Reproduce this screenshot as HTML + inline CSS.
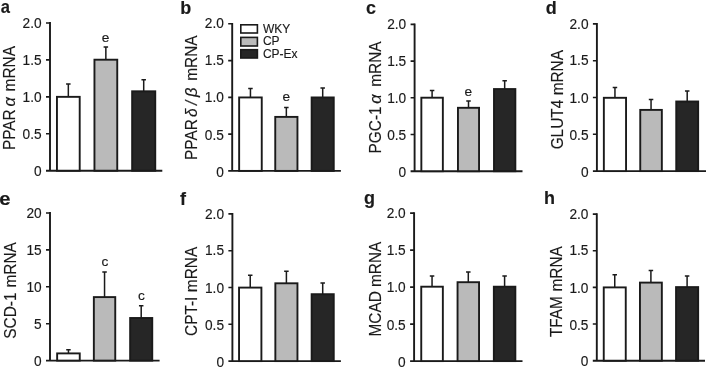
<!DOCTYPE html>
<html><head><meta charset="utf-8"><title>Figure</title>
<style>
html,body{margin:0;padding:0;background:#fff;}
svg{display:block;}
text{font-family:"Liberation Sans",Arial,sans-serif;fill:#1a1a1a;stroke:#1a1a1a;stroke-width:0.15px;}
.tk{font-size:13.7px;}
.lt{font-size:18px;font-weight:bold;}
.yl{font-size:15.4px;}
.an{font-size:13.7px;}
.lg{font-size:12px;}
.it{font-style:italic;}
.gk{font-size:16.5px;}
</style></head><body>
<svg width="706" height="367" viewBox="0 0 706 367">
<rect width="706" height="367" fill="#fff"/>
<path d="M50.0,22.10 V170.7 M46.00,170.7 H162.3" stroke="#1a1a1a" stroke-width="1.9" fill="none"/>
<text transform="translate(41.60,176.30) scale(1,1.03)" text-anchor="end" class="tk">0</text>
<text transform="translate(41.60,139.37) scale(1,1.03)" text-anchor="end" class="tk">0.5</text>
<text transform="translate(41.60,101.95) scale(1,1.03)" text-anchor="end" class="tk">1.0</text>
<text transform="translate(41.60,64.62) scale(1,1.03)" text-anchor="end" class="tk">1.5</text>
<text transform="translate(41.60,27.60) scale(1,1.03)" text-anchor="end" class="tk">2.0</text>
<path d="M46.00,133.77 H50.0 M46.00,96.85 H50.0 M46.00,59.92 H50.0 M46.00,23.00 H50.0 " stroke="#1a1a1a" stroke-width="1.6" fill="none"/>
<path d="M68.33,96.85 V84.00 M66.08,84.00 H70.58" stroke="#1a1a1a" stroke-width="1.5" fill="none"/>
<rect x="56.95" y="96.85" width="22.75" height="73.85" fill="#fff" stroke="#1a1a1a" stroke-width="1.9"/>
<path d="M105.85,59.70 V46.90 M103.60,46.90 H108.10" stroke="#1a1a1a" stroke-width="1.5" fill="none"/>
<rect x="94.45" y="59.70" width="22.80" height="111.00" fill="#bababa" stroke="#1a1a1a" stroke-width="1.9"/>
<path d="M143.70,91.30 V79.80 M141.45,79.80 H145.95" stroke="#1a1a1a" stroke-width="1.5" fill="none"/>
<rect x="132.15" y="91.30" width="23.10" height="79.40" fill="#262626" stroke="#1a1a1a" stroke-width="1.9"/>
<text transform="translate(0.8,13.1) scale(0.92,1)" class="lt">a</text>
<text transform="translate(15.2,129.70) rotate(-90) scale(1,1.03)" text-anchor="middle" class="yl">PPAR</text>
<text transform="translate(15.2,101.70) rotate(-90) scale(1,1.03)" text-anchor="middle" class="yl it gk">α</text>
<text transform="translate(15.2,68.75) rotate(-90) scale(1,1.03)" text-anchor="middle" class="yl">mRNA</text>
<text x="105.6" y="41.9" text-anchor="middle" class="an">e</text>
<path d="M232.2,22.90 V170.9 M228.20,170.9 H340.9" stroke="#1a1a1a" stroke-width="1.9" fill="none"/>
<text transform="translate(223.80,176.50) scale(1,1.03)" text-anchor="end" class="tk">0</text>
<text transform="translate(223.80,139.72) scale(1,1.03)" text-anchor="end" class="tk">0.5</text>
<text transform="translate(223.80,102.45) scale(1,1.03)" text-anchor="end" class="tk">1.0</text>
<text transform="translate(223.80,65.28) scale(1,1.03)" text-anchor="end" class="tk">1.5</text>
<text transform="translate(223.80,28.40) scale(1,1.03)" text-anchor="end" class="tk">2.0</text>
<path d="M228.20,134.12 H232.2 M228.20,97.35 H232.2 M228.20,60.58 H232.2 M228.20,23.80 H232.2 " stroke="#1a1a1a" stroke-width="1.6" fill="none"/>
<path d="M250.45,97.45 V88.50 M248.20,88.50 H252.70" stroke="#1a1a1a" stroke-width="1.5" fill="none"/>
<rect x="239.15" y="97.45" width="22.60" height="73.45" fill="#fff" stroke="#1a1a1a" stroke-width="1.9"/>
<path d="M286.35,116.90 V107.60 M284.10,107.60 H288.60" stroke="#1a1a1a" stroke-width="1.5" fill="none"/>
<rect x="275.25" y="116.90" width="22.20" height="54.00" fill="#bababa" stroke="#1a1a1a" stroke-width="1.9"/>
<path d="M322.70,97.45 V88.00 M320.45,88.00 H324.95" stroke="#1a1a1a" stroke-width="1.5" fill="none"/>
<rect x="311.65" y="97.45" width="22.10" height="73.45" fill="#262626" stroke="#1a1a1a" stroke-width="1.9"/>
<text transform="translate(180.3,14.1) scale(1,1)" class="lt">b</text>
<text transform="translate(197.0,139.55) rotate(-90) scale(1,1.03)" text-anchor="middle" class="yl">PPAR</text>
<text transform="translate(197.0,112.65) rotate(-90) scale(1,1.03)" text-anchor="middle" class="yl it">δ</text>
<text transform="translate(197.0,102.90) rotate(-90) scale(1,1.03)" text-anchor="middle" class="yl it">/</text>
<text transform="translate(197.0,92.20) rotate(-90) scale(1,1.03)" text-anchor="middle" class="yl it gk">β</text>
<text transform="translate(197.0,58.10) rotate(-90) scale(1,1.03)" text-anchor="middle" class="yl">mRNA</text>
<text x="286.2" y="101.2" text-anchor="middle" class="an">e</text>
<path d="M414.6,23.50 V171.2 M410.60,171.2 H522.5" stroke="#1a1a1a" stroke-width="1.9" fill="none"/>
<text transform="translate(406.20,176.80) scale(1,1.03)" text-anchor="end" class="tk">0</text>
<text transform="translate(406.20,140.10) scale(1,1.03)" text-anchor="end" class="tk">0.5</text>
<text transform="translate(406.20,102.90) scale(1,1.03)" text-anchor="end" class="tk">1.0</text>
<text transform="translate(406.20,65.80) scale(1,1.03)" text-anchor="end" class="tk">1.5</text>
<text transform="translate(406.20,29.00) scale(1,1.03)" text-anchor="end" class="tk">2.0</text>
<path d="M410.60,134.50 H414.6 M410.60,97.80 H414.6 M410.60,61.10 H414.6 M410.60,24.40 H414.6 " stroke="#1a1a1a" stroke-width="1.6" fill="none"/>
<path d="M432.10,97.70 V90.50 M429.85,90.50 H434.35" stroke="#1a1a1a" stroke-width="1.5" fill="none"/>
<rect x="421.35" y="97.70" width="21.50" height="73.50" fill="#fff" stroke="#1a1a1a" stroke-width="1.9"/>
<path d="M468.50,107.80 V101.00 M466.25,101.00 H470.75" stroke="#1a1a1a" stroke-width="1.5" fill="none"/>
<rect x="457.95" y="107.80" width="21.10" height="63.40" fill="#bababa" stroke="#1a1a1a" stroke-width="1.9"/>
<path d="M504.67,89.05 V80.70 M502.42,80.70 H506.92" stroke="#1a1a1a" stroke-width="1.5" fill="none"/>
<rect x="494.00" y="89.05" width="21.35" height="82.15" fill="#262626" stroke="#1a1a1a" stroke-width="1.9"/>
<text transform="translate(366.0,14.1) scale(1,1)" class="lt">c</text>
<text transform="translate(380.7,129.90) rotate(-90) scale(1,1.03)" text-anchor="middle" class="yl">PGC-1</text>
<text transform="translate(380.7,98.95) rotate(-90) scale(1,1.03)" text-anchor="middle" class="yl it gk">α</text>
<text transform="translate(380.7,64.05) rotate(-90) scale(1,1.03)" text-anchor="middle" class="yl">mRNA</text>
<text x="468.2" y="95.8" text-anchor="middle" class="an">e</text>
<path d="M596.9,23.00 V171.1 M592.90,171.1 H707" stroke="#1a1a1a" stroke-width="1.9" fill="none"/>
<text transform="translate(588.50,176.70) scale(1,1.03)" text-anchor="end" class="tk">0</text>
<text transform="translate(588.50,139.90) scale(1,1.03)" text-anchor="end" class="tk">0.5</text>
<text transform="translate(588.50,102.60) scale(1,1.03)" text-anchor="end" class="tk">1.0</text>
<text transform="translate(588.50,65.40) scale(1,1.03)" text-anchor="end" class="tk">1.5</text>
<text transform="translate(588.50,28.50) scale(1,1.03)" text-anchor="end" class="tk">2.0</text>
<path d="M592.90,134.30 H596.9 M592.90,97.50 H596.9 M592.90,60.70 H596.9 M592.90,23.90 H596.9 " stroke="#1a1a1a" stroke-width="1.6" fill="none"/>
<path d="M614.95,97.80 V87.60 M612.70,87.60 H617.20" stroke="#1a1a1a" stroke-width="1.5" fill="none"/>
<rect x="603.85" y="97.80" width="22.20" height="73.30" fill="#fff" stroke="#1a1a1a" stroke-width="1.9"/>
<path d="M651.05,109.90 V99.60 M648.80,99.60 H653.30" stroke="#1a1a1a" stroke-width="1.5" fill="none"/>
<rect x="640.25" y="109.90" width="21.60" height="61.20" fill="#bababa" stroke="#1a1a1a" stroke-width="1.9"/>
<path d="M687.20,101.50 V91.10 M684.95,91.10 H689.45" stroke="#1a1a1a" stroke-width="1.5" fill="none"/>
<rect x="676.25" y="101.50" width="21.90" height="69.60" fill="#262626" stroke="#1a1a1a" stroke-width="1.9"/>
<text transform="translate(545.7,14.05) scale(1,1)" class="lt">d</text>
<text transform="translate(563.0,124.55) rotate(-90) scale(1,1.03)" text-anchor="middle" class="yl">GLUT4</text>
<text transform="translate(563.0,72.70) rotate(-90) scale(1,1.03)" text-anchor="middle" class="yl">mRNA</text>
<path d="M50.0,212.10 V360.6 M46.00,360.6 H159.6" stroke="#1a1a1a" stroke-width="1.9" fill="none"/>
<text transform="translate(41.60,366.20) scale(1,1.03)" text-anchor="end" class="tk">0</text>
<text transform="translate(41.60,329.30) scale(1,1.03)" text-anchor="end" class="tk">5</text>
<text transform="translate(41.60,291.90) scale(1,1.03)" text-anchor="end" class="tk">10</text>
<text transform="translate(41.60,254.60) scale(1,1.03)" text-anchor="end" class="tk">15</text>
<text transform="translate(41.60,217.60) scale(1,1.03)" text-anchor="end" class="tk">20</text>
<path d="M46.00,323.70 H50.0 M46.00,286.80 H50.0 M46.00,249.90 H50.0 M46.00,213.00 H50.0 " stroke="#1a1a1a" stroke-width="1.6" fill="none"/>
<path d="M68.45,353.40 V349.70 M66.20,349.70 H70.70" stroke="#1a1a1a" stroke-width="1.5" fill="none"/>
<rect x="57.15" y="353.40" width="22.60" height="7.20" fill="#fff" stroke="#1a1a1a" stroke-width="1.9"/>
<path d="M104.55,297.10 V272.10 M102.30,272.10 H106.80" stroke="#1a1a1a" stroke-width="1.5" fill="none"/>
<rect x="93.85" y="297.10" width="21.40" height="63.50" fill="#bababa" stroke="#1a1a1a" stroke-width="1.9"/>
<path d="M141.20,318.00 V305.70 M138.95,305.70 H143.45" stroke="#1a1a1a" stroke-width="1.5" fill="none"/>
<rect x="130.15" y="318.00" width="22.10" height="42.60" fill="#262626" stroke="#1a1a1a" stroke-width="1.9"/>
<text transform="translate(-0.7,204.7) scale(1.12,1)" class="lt">e</text>
<text transform="translate(15.5,315.65) rotate(-90) scale(1,1.03)" text-anchor="middle" class="yl">SCD-1</text>
<text transform="translate(15.5,264.85) rotate(-90) scale(1,1.03)" text-anchor="middle" class="yl">mRNA</text>
<text x="104.9" y="266.1" text-anchor="middle" class="an">c</text>
<text x="141.3" y="300.1" text-anchor="middle" class="an">c</text>
<path d="M232.4,213.00 V361.1 M228.40,361.1 H340.9" stroke="#1a1a1a" stroke-width="1.9" fill="none"/>
<text transform="translate(224.00,366.70) scale(1,1.03)" text-anchor="end" class="tk">0</text>
<text transform="translate(224.00,329.90) scale(1,1.03)" text-anchor="end" class="tk">0.5</text>
<text transform="translate(224.00,292.60) scale(1,1.03)" text-anchor="end" class="tk">1.0</text>
<text transform="translate(224.00,255.40) scale(1,1.03)" text-anchor="end" class="tk">1.5</text>
<text transform="translate(224.00,218.50) scale(1,1.03)" text-anchor="end" class="tk">2.0</text>
<path d="M228.40,324.30 H232.4 M228.40,287.50 H232.4 M228.40,250.70 H232.4 M228.40,213.90 H232.4 " stroke="#1a1a1a" stroke-width="1.6" fill="none"/>
<path d="M250.23,287.60 V275.30 M247.98,275.30 H252.48" stroke="#1a1a1a" stroke-width="1.5" fill="none"/>
<rect x="239.05" y="287.60" width="22.35" height="73.50" fill="#fff" stroke="#1a1a1a" stroke-width="1.9"/>
<path d="M286.40,283.30 V271.20 M284.15,271.20 H288.65" stroke="#1a1a1a" stroke-width="1.5" fill="none"/>
<rect x="275.35" y="283.30" width="22.10" height="77.80" fill="#bababa" stroke="#1a1a1a" stroke-width="1.9"/>
<path d="M322.70,294.20 V282.90 M320.45,282.90 H324.95" stroke="#1a1a1a" stroke-width="1.5" fill="none"/>
<rect x="311.65" y="294.20" width="22.10" height="66.90" fill="#262626" stroke="#1a1a1a" stroke-width="1.9"/>
<text transform="translate(179.9,205.3) scale(1,1)" class="lt">f</text>
<text transform="translate(197.4,316.30) rotate(-90) scale(1,1.03)" text-anchor="middle" class="yl">CPT-I</text>
<text transform="translate(197.4,269.50) rotate(-90) scale(1,1.03)" text-anchor="middle" class="yl">mRNA</text>
<path d="M414.1,212.25 V361.1 M410.10,361.1 H522.5" stroke="#1a1a1a" stroke-width="1.9" fill="none"/>
<text transform="translate(405.70,366.70) scale(1,1.03)" text-anchor="end" class="tk">0</text>
<text transform="translate(405.70,329.71) scale(1,1.03)" text-anchor="end" class="tk">0.5</text>
<text transform="translate(405.70,292.23) scale(1,1.03)" text-anchor="end" class="tk">1.0</text>
<text transform="translate(405.70,254.84) scale(1,1.03)" text-anchor="end" class="tk">1.5</text>
<text transform="translate(405.70,217.75) scale(1,1.03)" text-anchor="end" class="tk">2.0</text>
<path d="M410.10,324.11 H414.1 M410.10,287.12 H414.1 M410.10,250.14 H414.1 M410.10,213.15 H414.1 " stroke="#1a1a1a" stroke-width="1.6" fill="none"/>
<path d="M432.05,286.70 V276.00 M429.80,276.00 H434.30" stroke="#1a1a1a" stroke-width="1.5" fill="none"/>
<rect x="421.25" y="286.70" width="21.60" height="74.40" fill="#fff" stroke="#1a1a1a" stroke-width="1.9"/>
<path d="M468.30,282.20 V271.90 M466.05,271.90 H470.55" stroke="#1a1a1a" stroke-width="1.5" fill="none"/>
<rect x="457.55" y="282.20" width="21.50" height="78.90" fill="#bababa" stroke="#1a1a1a" stroke-width="1.9"/>
<path d="M504.60,286.70 V276.00 M502.35,276.00 H506.85" stroke="#1a1a1a" stroke-width="1.5" fill="none"/>
<rect x="493.85" y="286.70" width="21.50" height="74.40" fill="#262626" stroke="#1a1a1a" stroke-width="1.9"/>
<text transform="translate(364.1,203.6) scale(1,1)" class="lt">g</text>
<text transform="translate(380.7,313.80) rotate(-90) scale(1,1.03)" text-anchor="middle" class="yl">MCAD</text>
<text transform="translate(380.7,264.35) rotate(-90) scale(1,1.03)" text-anchor="middle" class="yl">mRNA</text>
<path d="M596.8,213.20 V360.7 M592.80,360.7 H705" stroke="#1a1a1a" stroke-width="1.9" fill="none"/>
<text transform="translate(588.40,366.30) scale(1,1.03)" text-anchor="end" class="tk">0</text>
<text transform="translate(588.40,329.65) scale(1,1.03)" text-anchor="end" class="tk">0.5</text>
<text transform="translate(588.40,292.50) scale(1,1.03)" text-anchor="end" class="tk">1.0</text>
<text transform="translate(588.40,255.45) scale(1,1.03)" text-anchor="end" class="tk">1.5</text>
<text transform="translate(588.40,218.70) scale(1,1.03)" text-anchor="end" class="tk">2.0</text>
<path d="M592.80,324.05 H596.8 M592.80,287.40 H596.8 M592.80,250.75 H596.8 M592.80,214.10 H596.8 " stroke="#1a1a1a" stroke-width="1.6" fill="none"/>
<path d="M614.75,287.40 V274.80 M612.50,274.80 H617.00" stroke="#1a1a1a" stroke-width="1.5" fill="none"/>
<rect x="603.75" y="287.40" width="22.00" height="73.30" fill="#fff" stroke="#1a1a1a" stroke-width="1.9"/>
<path d="M650.90,282.60 V270.50 M648.65,270.50 H653.15" stroke="#1a1a1a" stroke-width="1.5" fill="none"/>
<rect x="639.95" y="282.60" width="21.90" height="78.10" fill="#bababa" stroke="#1a1a1a" stroke-width="1.9"/>
<path d="M687.10,287.10 V275.90 M684.85,275.90 H689.35" stroke="#1a1a1a" stroke-width="1.5" fill="none"/>
<rect x="676.05" y="287.10" width="22.10" height="73.60" fill="#262626" stroke="#1a1a1a" stroke-width="1.9"/>
<text transform="translate(544.1,203.6) scale(1,1)" class="lt">h</text>
<text transform="translate(562.2,316.60) rotate(-90) scale(1,1.03)" text-anchor="middle" class="yl">TFAM</text>
<text transform="translate(562.2,268.85) rotate(-90) scale(1,1.03)" text-anchor="middle" class="yl">mRNA</text>

<rect x="240.8" y="24.8" width="16.6" height="8.2" fill="#fff" stroke="#1a1a1a" stroke-width="1.6"/>
<rect x="240.8" y="37.4" width="16.6" height="8.6" fill="#bababa" stroke="#1a1a1a" stroke-width="1.6"/>
<rect x="240.8" y="49.7" width="16.6" height="8.3" fill="#262626" stroke="#1a1a1a" stroke-width="1.6"/>
<text transform="translate(262.9,33.3) scale(1,1.03)" class="lg">WKY</text>
<text transform="translate(262.9,45.4) scale(1,1.03)" class="lg">CP</text>
<text transform="translate(262.9,58.0) scale(1,1.03)" class="lg">CP-Ex</text>

</svg>
</body></html>
